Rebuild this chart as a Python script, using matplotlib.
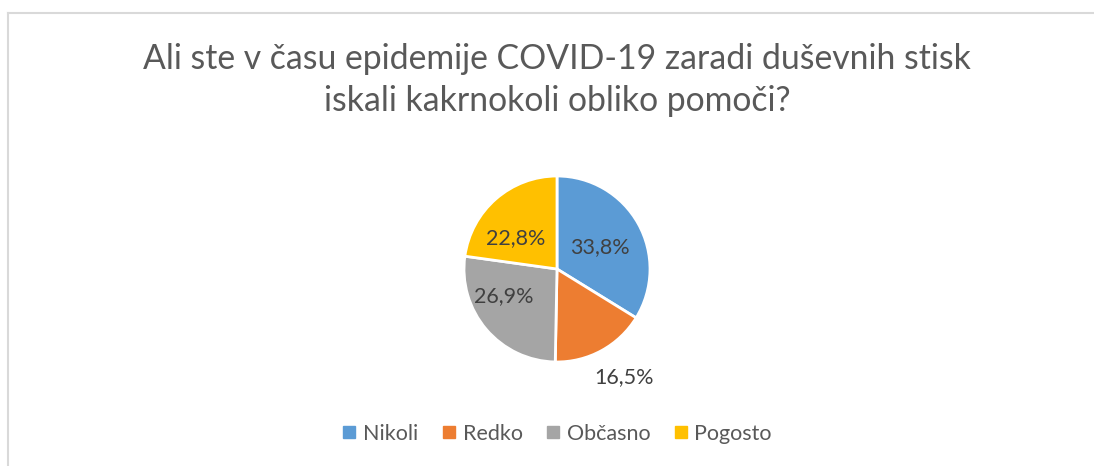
import matplotlib.pyplot as plt
import numpy as np
from matplotlib.lines import Line2D

# data
kategorije = ['Nikoli', 'Redko', 'Občasno', 'Pogosto']
odstotki = [33.8, 16.5, 26.9, 22.8]
barve = ['#5b9bd5', '#ed7d31', '#a5a5a5', '#ffc000']
naslov = 'Ali ste v času epidemije COVID-19 zaradi duševnih stisk\niskali kakrnokoli obliko pomoči?'

plt.rcParams['font.family'] = ['Lato', 'DejaVu Sans']
siva = '#595959'

W, H = 1094, 466
fig = plt.figure(figsize=(W / 100, H / 100), dpi=100)

# okvir grafa (zgoraj in levo)
fig.add_artist(Line2D([8 / W, 1], [1 - 13 / H, 1 - 13 / H], color='#d9d9d9', lw=1.5))
fig.add_artist(Line2D([8 / W, 8 / W], [0, 1 - 13 / H], color='#d9d9d9', lw=1.5))

fig.text(0.509, 1 - 80 / H, naslov, ha='center', va='center', fontsize=24.3,
         color=siva, linespacing=1.35)

# pita
cx, cy, r = 557, 269, 93
ax = fig.add_axes([(cx - r) / W, 1 - (cy + r) / H, 2 * r / W, 2 * r / H])
wedges, _ = ax.pie(odstotki, colors=barve, startangle=90, counterclock=False,
                   radius=1, wedgeprops=dict(edgecolor='white', linewidth=2))
ax.set_xlim(-1, 1)
ax.set_ylim(-1, 1)
ax.set_aspect('equal')
ax.axis('off')

# položaj oznak (razdalja, zamik kota)
razdalje = [0.52, 1.37, 0.64, 0.56]
zamiki = [-2, 3, -13, 12]
for w, p, d, z in zip(wedges, odstotki, razdalje, zamiki):
    kot = np.deg2rad((w.theta1 + w.theta2) / 2 + z)
    ax.text(d * np.cos(kot), d * np.sin(kot), f'{p:.1f}%'.replace('.', ','),
            ha='center', va='center', fontsize=15.5, color='#404040', clip_on=False)

handles = [Line2D([], [], marker='s', ls='', color=c, markersize=8) for c in barve]
leg = fig.legend(handles, kategorije, loc='center', bbox_to_anchor=(0.509, 1 - 434 / H),
                 ncol=4, frameon=False, fontsize=15.5, handletextpad=0.3,
                 columnspacing=1.05, handlelength=0.7)
for t in leg.get_texts():
    t.set_color(siva)

fig.savefig('out.png', dpi=100)
